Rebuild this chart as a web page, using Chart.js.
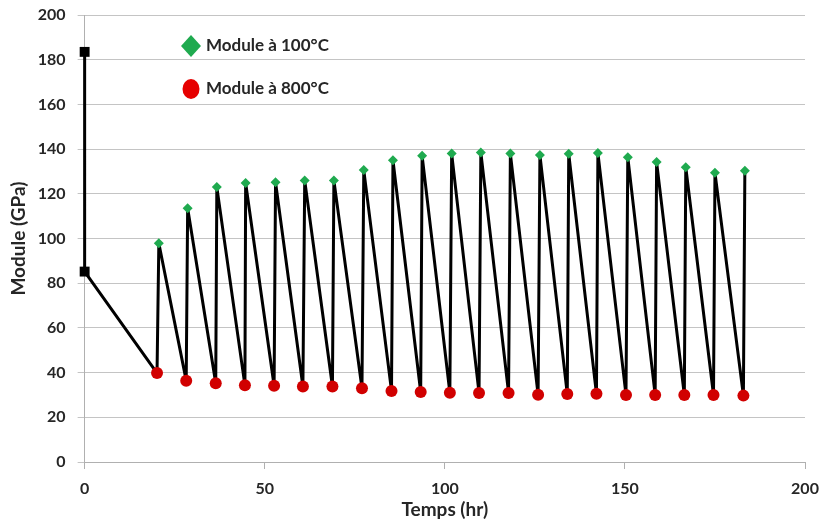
<!DOCTYPE html>
<html><head><meta charset="utf-8">
<script src="https://cdn.jsdelivr.net/npm/chart.js@4/dist/chart.umd.min.js"></script>
<style>html,body{margin:0;padding:0;background:#fff}#wrap{width:822px;height:524px}</style>
</head><body><div id="wrap"><canvas id="c" width="822" height="524"></canvas></div>
<script>
const initX = [0, 0];
const initY = [183.5, 85.2];
const redX = [20.1,28.2,36.4,44.5,52.6,60.6,68.8,77.0,85.2,93.3,101.4,109.5,117.7,125.9,134.0,142.1,150.3,158.4,166.5,174.6,182.9];
const redY = [39.8,36.4,35.2,34.3,34.1,33.8,33.8,33.0,31.8,31.3,31.0,30.9,30.9,30.1,30.4,30.5,30.0,30.0,30.0,30.0,29.7];
const greenX = [20.6,28.6,36.7,44.7,53.0,61.1,69.2,77.5,85.6,93.7,101.9,110.0,118.2,126.4,134.4,142.5,150.8,158.8,166.9,175.0,183.3];
const greenY = [97.9,113.5,123.0,124.8,125.2,126.0,126.0,130.6,135.0,137.0,138.0,138.5,138.0,137.4,137.9,138.3,136.4,134.2,131.9,129.4,130.3];
const legendLabels = ['Module à 100°C', 'Module à 800°C'];
const xTicks = [0, 50, 100, 150, 200];

const pathPts = initX.map((x, i) => ({x, y: initY[i]}));
redX.forEach((x, i) => { pathPts.push({x, y: redY[i]}); pathPts.push({x: greenX[i], y: greenY[i]}); });
const greenPts = greenX.map((x, i) => ({x, y: greenY[i]}));
const redPts = redX.map((x, i) => ({x, y: redY[i]}));

const FONT = 'Lato, "Open Sans", sans-serif';
const TXT = '#262626';

const legendPlugin = {
  id: 'customLegend',
  afterDraw(chart) {
    const ctx = chart.ctx;
    ctx.save();
    ctx.fillStyle = '#1faa4f';
    ctx.beginPath();
    ctx.moveTo(191, 35); ctx.lineTo(201, 46); ctx.lineTo(191, 57); ctx.lineTo(181, 46); ctx.closePath();
    ctx.fill();
    ctx.fillStyle = '#e60000';
    ctx.beginPath();
    ctx.ellipse(191, 89, 8.5, 10, 0, 0, Math.PI * 2);
    ctx.fill();
    ctx.fillStyle = TXT;
    ctx.font = 'bold 17px ' + FONT;
    ctx.textBaseline = 'middle';
    ctx.fillText(legendLabels[0], 206, 46);
    ctx.fillText(legendLabels[1], 206, 89);
    ctx.restore();
  }
};

new Chart(document.getElementById('c'), {
  type: 'scatter',
  data: {
    datasets: [
      { label: 'path', data: pathPts, showLine: true, borderColor: '#000', borderWidth: 3,
        borderJoinStyle: 'round', clip: false,
        pointRadius: ctx => ctx.dataIndex < 2 ? 7 : 0, pointStyle: 'rect',
        pointBackgroundColor: '#000', pointBorderWidth: 0, order: 3 },
      { label: legendLabels[0], data: greenPts, pointStyle: 'rectRot', pointRadius: 5,
        pointBackgroundColor: '#1faa4f', pointBorderWidth: 0, order: 1 },
      { label: legendLabels[1], data: redPts, pointStyle: 'circle', pointRadius: 6,
        pointBackgroundColor: '#d10000', pointBorderWidth: 0, order: 2 }
    ]
  },
  options: {
    responsive: false, animation: false,
    layout: { padding: { top: 15, right: 0, left: 7, bottom: 3 } },
    plugins: { legend: { display: false }, tooltip: { enabled: false } },
    scales: {
      x: { type: 'linear', min: 0, max: 200,
        afterBuildTicks: s => { s.ticks = xTicks.map(v => ({value: v})); },
        afterFit: s => { s.paddingRight = 17; s.paddingLeft = 0; },
        grid: { display: true, drawOnChartArea: false, drawTicks: true, tickLength: 7, color: '#b0b0b0' },
        border: { color: '#b0b0b0' },
        ticks: { padding: 10, color: TXT, font: { family: FONT, size: 16, weight: 'bold' } },
        title: { display: true, text: 'Temps (hr)', color: TXT, padding: { top: -10, bottom: 0 }, font: { family: FONT, size: 19, weight: 'bold' } } },
      y: { min: 0, max: 200,
        afterFit: s => { s.paddingTop = 0; s.paddingBottom = 0; },
        ticks: { stepSize: 20, padding: 12, color: TXT, font: { family: FONT, size: 16, weight: 'bold' } },
        grid: { color: '#c4c4c4', tickLength: 7 },
        border: { color: '#b0b0b0' },
        title: { display: true, text: 'Module (GPa)', color: TXT, padding: { top: 0, bottom: -4 }, font: { family: FONT, size: 19, weight: 'bold' } } }
    }
  },
  plugins: [legendPlugin]
});
</script></body></html>
